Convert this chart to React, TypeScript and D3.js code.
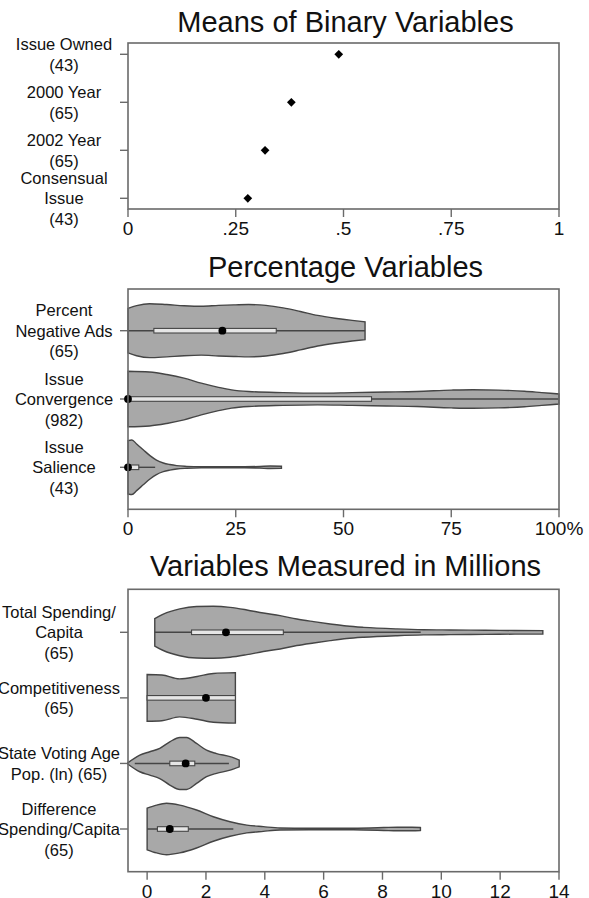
import React from "react";
import * as d3 from "d3";

// ---------- DATA ----------
const binaryNames = ["Issue Owned", "2000 Year", "2002 Year", "Consensual Issue"];
const binaryLabels = [["Issue Owned", "(43)"], ["2000 Year", "(65)"], ["2002 Year", "(65)"], ["Consensual", "Issue", "(43)"]];
const binaryMeans = [0.489, 0.379, 0.318, 0.278];
const binaryTicks = [0, 0.25, 0.5, 0.75, 1];
const binaryTickLabels = ["0", ".25", ".5", ".75", "1"];

const pctNames = ["Percent Negative Ads", "Issue Convergence", "Issue Salience"];
const pctLabels = [["Percent", "Negative Ads", "(65)"], ["Issue", "Convergence", "(982)"], ["Issue", "Salience", "(43)"]];
const pctTicks = [0, 25, 50, 75, 100];
const pctTickLabels = ["0", "25", "50", "75", "100%"];
// [value, relative density]
const negAdsDensity: [number, number][] = [[0, 0.8], [2, 0.9], [5, 0.97], [9, 0.94], [13, 0.9], [17, 0.88], [21, 0.91], [25, 0.93], [28, 0.94], [32, 0.91], [36, 0.82], [40, 0.69], [44, 0.55], [48, 0.45], [52, 0.37], [55, 0.32]];
const convergenceDensity: [number, number][] = [[0, 1.0], [5, 0.97], [9, 0.88], [13, 0.75], [17, 0.57], [21, 0.42], [24, 0.33], [28, 0.27], [36, 0.23], [44, 0.21], [52, 0.23], [60, 0.25], [67, 0.27], [75, 0.32], [80, 0.335], [86, 0.32], [92, 0.28], [96, 0.23], [100, 0.18]];
const salienceDensity: [number, number][] = [[0, 0.96], [0.9, 0.98], [2, 0.84], [3.6, 0.62], [5.1, 0.42], [6.6, 0.26], [8.2, 0.155], [9.7, 0.1], [11.3, 0.06], [13.6, 0.035], [17, 0.02], [22, 0.018], [27, 0.02], [30.6, 0.03], [33, 0.045], [35.6, 0.04]];
const pctDensities = [negAdsDensity, convergenceDensity, salienceDensity];
const pctLo = [0, 0, 0];
const pctQ1 = [6.0, 0, 0];
const pctMed = [21.9, 0, 0];
const pctQ3 = [34.4, 56.5, 2.5];
const pctHi = [55, 100, 6.3];

const millNames = ["Total Spending/Capita", "Competitiveness", "State Voting Age Pop.", "Difference Spending/Capita"];
const millLabels = [["Total Spending/", "Capita", "(65)"], ["Competitiveness", "(65)"], ["State Voting Age", "Pop. (ln) (65)"], ["Difference", "Spending/Capita", "(65)"]];
const millTicks = [0, 2, 4, 6, 8, 10, 12, 14];
const spendingDensity: [number, number][] = [[0.26, 0.53], [0.55, 0.7], [1.11, 0.9], [1.68, 0.99], [2.25, 1.0], [2.82, 0.96], [3.39, 0.86], [3.95, 0.74], [4.52, 0.64], [5.09, 0.51], [5.66, 0.41], [6.22, 0.32], [6.79, 0.24], [7.36, 0.19], [8.5, 0.13], [9.4, 0.1], [10.3, 0.09], [11.5, 0.08], [12.5, 0.07], [13.45, 0.065]];
const competitivenessDensity: [number, number][] = [[0, 0.9], [0.5, 0.88], [1.1, 0.73], [1.7, 0.82], [2.25, 0.94], [3, 0.97]];
const votingPopDensity: [number, number][] = [[-0.66, 0.02], [-0.25, 0.32], [0.09, 0.45], [0.43, 0.58], [0.77, 0.83], [1.11, 1.0], [1.34, 1.0], [1.68, 0.77], [2.02, 0.51], [2.36, 0.38], [2.82, 0.26], [3.13, 0.13]];
const differenceDensity: [number, number][] = [[0, 0.8], [0.32, 0.92], [0.66, 0.99], [1.11, 0.92], [1.68, 0.73], [2.25, 0.47], [2.82, 0.28], [3.39, 0.15], [3.95, 0.09], [4.52, 0.04], [5.5, 0.027], [7, 0.03], [8.04, 0.055], [8.5, 0.07], [9.0, 0.065], [9.29, 0.055]];
const millDensities = [spendingDensity, competitivenessDensity, votingPopDensity, differenceDensity];
const millLo = [0.26, 0, -0.42, 0];
const millQ1 = [1.51, 0, 0.77, 0.35];
const millMed = [2.68, 2.0, 1.31, 0.77];
const millQ3 = [4.63, 3.0, 1.62, 1.4];
const millHi = [9.3, 3.0, 2.78, 2.93];

// ---------- STYLE ----------
const FONT = "'Liberation Sans', Arial, Helvetica, sans-serif";
const FRAME = "#6a6a6a";
const TEXT = "#111";
const VFILL = "#a8a8a8";
const VSTROKE = "#454545";
const BOXFILL = "#e6e6e6";

const L = 128, R = 559;

function YLabels({ labels, names, y, cx }: { labels: string[][]; names: string[]; y: any; cx: number }) {
  const lh = 20.5;
  return (
    <g>
      {labels.map((lines, i) => {
        const cy = y(names[i]);
        const start = cy - ((lines.length - 1) * lh) / 2;
        return (
          <g key={i}>
            <line x1={L - 8} x2={L} y1={cy} y2={cy} stroke={FRAME} strokeWidth={1.4} />
            {lines.map((t, j) => (
              <text key={j} x={cx} y={start + j * lh} textAnchor="middle" dominantBaseline="central" fontSize={16.5} fill={TEXT} fontFamily={FONT}>
                {t}
              </text>
            ))}
          </g>
        );
      })}
    </g>
  );
}

function XAxis({ x, ticks, labels, y0 }: { x: any; ticks: number[]; labels: string[]; y0: number }) {
  return (
    <g>
      {ticks.map((t, i) => (
        <g key={i}>
          <line x1={x(t)} x2={x(t)} y1={y0} y2={y0 + 8} stroke={FRAME} strokeWidth={1.4} />
          <text x={x(t)} y={y0 + 19.5} textAnchor="middle" dominantBaseline="central" fontSize={19} fill={TEXT} fontFamily={FONT}>
            {labels[i]}
          </text>
        </g>
      ))}
    </g>
  );
}

function Frame({ top, bottom }: { top: number; bottom: number }) {
  return <rect x={L} y={top} width={R - L} height={bottom - top} fill="none" stroke={FRAME} strokeWidth={1.6} />;
}

function Title({ text, y }: { text: string; y: number }) {
  return (
    <text x={(L + R) / 2 + 2} y={y} textAnchor="middle" fontSize={29} fill={TEXT} fontFamily={FONT}>
      {text}
    </text>
  );
}

function Violins({ x, y, names, dens, lo, q1, med, q3, hi, maxHW }: any) {
  const w = d3.scaleLinear().domain([0, 1]).range([0, maxHW]);
  return (
    <g>
      {names.map((n: string, i: number) => {
        const cy = y(n);
        const area = d3
          .area<[number, number]>()
          .x((d) => x(d[0]))
          .y0((d) => cy - w(d[1]))
          .y1((d) => cy + w(d[1]))
          .curve(d3.curveMonotoneX);
        return (
          <g key={n}>
            <path d={area(dens[i]) || ""} fill={VFILL} stroke={VSTROKE} strokeWidth={1.4} />
            <line x1={x(lo[i])} x2={x(hi[i])} y1={cy} y2={cy} stroke={VSTROKE} strokeWidth={1.4} />
            <rect x={x(q1[i])} y={cy - 2.3} width={Math.max(0, x(q3[i]) - x(q1[i]))} height={4.6} fill={BOXFILL} stroke={VSTROKE} strokeWidth={1.1} />
            <circle cx={x(med[i])} cy={cy} r={3.9} fill="#000" />
          </g>
        );
      })}
    </g>
  );
}

export default function App() {
  // Panel 1
  const x1 = d3.scaleLinear().domain([0, 1]).range([L, R]);
  const y1 = d3.scalePoint().domain(binaryNames).range([54.3, 198.3]);
  const diamond = d3.symbol().type(d3.symbolSquare).size(38)();

  // Panel 2
  const x2 = d3.scaleLinear().domain([0, 100]).range([L, R]);
  const y2 = d3.scalePoint().domain(pctNames).range([330.7, 467.3]);

  // Panel 3
  const x3 = d3.scaleLinear().domain([-0.65, 14]).range([L, R]);
  const y3 = d3.scalePoint().domain(millNames).range([632.3, 829]);

  return (
    <svg width={589} height={898} style={{ position: "absolute", left: 0, top: 0, background: "#fff" }}>
      <rect width={589} height={898} fill="#fff" />
      {/* Panel 1 */}
      <Title text="Means of Binary Variables" y={31.7} />
      <Frame top={43} bottom={209} />
      <YLabels labels={binaryLabels} names={binaryNames} y={y1} cx={64} />
      <XAxis x={x1} ticks={binaryTicks} labels={binaryTickLabels} y0={209} />
      {binaryMeans.map((m, i) => (
        <path key={i} d={diamond || ""} transform={`translate(${x1(m)},${y1(binaryNames[i])}) rotate(45)`} fill="#000" />
      ))}

      {/* Panel 2 */}
      <Title text="Percentage Variables" y={276.7} />
      <YLabels labels={pctLabels} names={pctNames} y={y2} cx={64} />
      <Violins x={x2} y={y2} names={pctNames} dens={pctDensities} lo={pctLo} q1={pctQ1} med={pctMed} q3={pctQ3} hi={pctHi} maxHW={27.8} />
      <Frame top={289} bottom={509.3} />
      <XAxis x={x2} ticks={pctTicks} labels={pctTickLabels} y0={509.3} />

      {/* Panel 3 */}
      <Title text="Variables Measured in Millions" y={576} />
      <YLabels labels={millLabels} names={millNames} y={y3} cx={59} />
      <Violins x={x3} y={y3} names={millNames} dens={millDensities} lo={millLo} q1={millQ1} med={millMed} q3={millQ3} hi={millHi} maxHW={26} />
      <Frame top={589.3} bottom={871.7} />
      <XAxis x={x3} ticks={millTicks} labels={millTicks.map(String)} y0={871.7} />
    </svg>
  );
}
